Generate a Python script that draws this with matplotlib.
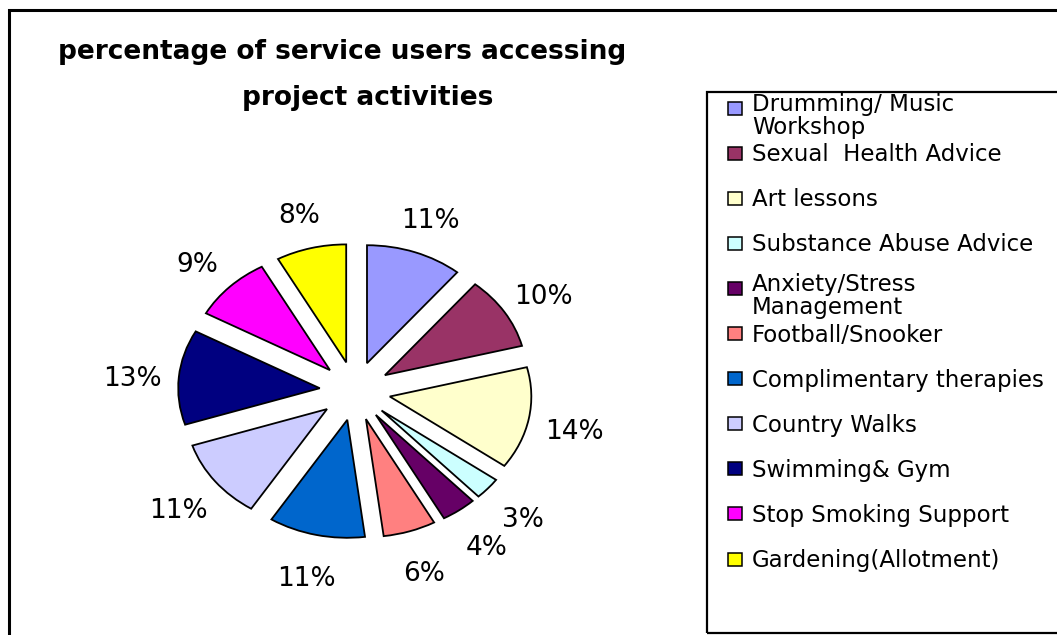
import matplotlib
matplotlib.use("Agg")
import matplotlib.pyplot as plt
from matplotlib.patches import Rectangle

activities = [
    "Drumming/ Music\nWorkshop",
    "Sexual  Health Advice",
    "Art lessons",
    "Substance Abuse Advice",
    "Anxiety/Stress\nManagement",
    "Football/Snooker",
    "Complimentary therapies",
    "Country Walks",
    "Swimming& Gym",
    "Stop Smoking Support",
    "Gardening(Allotment)",
]
percent = [11, 10, 14, 3, 4, 6, 11, 11, 13, 9, 8]
colours = ["#9999FF", "#993366", "#FFFFCC", "#CCFFFF", "#660066", "#FF8080",
           "#0066CC", "#CCCCFF", "#000080", "#FF00FF", "#FFFF00"]

plt.rcParams["font.family"] = ["DejaVu Sans"]

W, H = 1057, 635
fig = plt.figure(figsize=(W / 100, H / 100), dpi=100)

def fx(px):
    return px / W

def fy(py):
    return 1 - py / H

# outer chart border (runs off the right and bottom edges)
fig.patches.append(Rectangle((fx(9), fy(H + 10)), fx(W + 20), fy(10) - fy(H + 10),
                             transform=fig.transFigure, fill=False,
                             edgecolor="black", linewidth=2.2, clip_on=False))

# title
fig.text(fx(342), fy(52), "percentage of service users accessing", ha="center",
         va="center", fontsize=19, fontweight="bold")
fig.text(fx(368), fy(98), "project activities", ha="center", va="center",
         fontsize=19, fontweight="bold")

# pie is stretched horizontally, so the axes aspect is left free
ax = fig.add_axes([fx(128.5), fy(579.8), fx(453), 377.6 / H])
ax.pie(percent, colors=colours, startangle=90, counterclock=False,
       explode=[0.25] * len(percent), autopct="%.0f%%", pctdistance=1.33,
       wedgeprops=dict(edgecolor="black", linewidth=1.3),
       textprops=dict(fontsize=19))
ax.set_xlim(-1.6, 1.6)
ax.set_ylim(-1.6, 1.6)
ax.set_aspect("auto")
ax.axis("off")
for t in ax.texts:
    t.set_clip_on(False)
    x, y = t.get_position()
    t.set_position((x, y - 0.05))

# legend box
fig.patches.append(Rectangle((fx(707), fy(633)), fx(W + 20 - 707), fy(92) - fy(633),
                             transform=fig.transFigure, fill=False,
                             edgecolor="black", linewidth=1.6, clip_on=False))
for i, (name, col) in enumerate(zip(activities, colours)):
    yc = 108 + 45.1 * i
    fig.patches.append(Rectangle((fx(728), fy(yc + 6.5)), fx(14), 13 / H,
                                 transform=fig.transFigure, facecolor=col,
                                 edgecolor="black", linewidth=1.1))
    # wrapped labels sit a little higher and spill into the gap below
    base = yc + 26 if "\n" in name else yc + 8
    fig.text(fx(752), fy(base), name, ha="left", va="baseline",
             fontsize=16.5, linespacing=1.0)

fig.savefig("out.png", dpi=100, facecolor="white")
